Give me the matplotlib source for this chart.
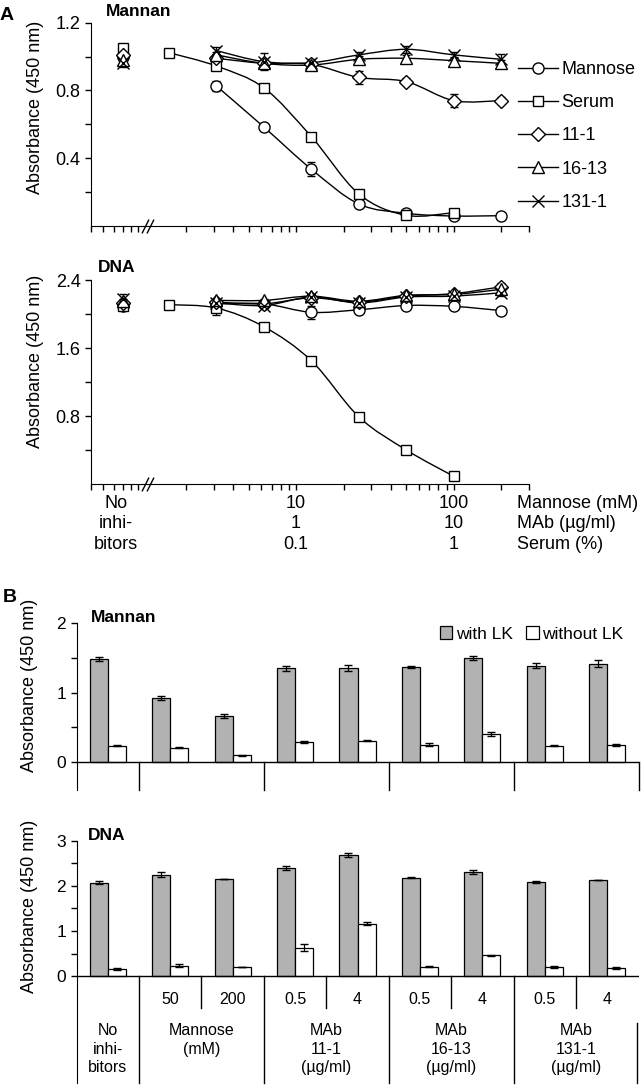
#%%
# Inhibition of binding to Mannan / DNA (panel A curves, panel B bars)
#
import numpy as np
import matplotlib as mpl
import matplotlib.pyplot as plt
from matplotlib.path import Path
from matplotlib.patches import PathPatch, Patch
from matplotlib.lines import Line2D
from matplotlib.ticker import NullFormatter, FixedLocator
mpl.rcParams['font.family'] = ['Liberation Sans', 'DejaVu Sans']

#
# Panel A data (x = mannose mM scale)
#
conc = [3.125, 6.25, 12.5, 25, 50, 100, 200]
serum_conc = [1.5625, 3.125, 6.25, 12.5, 25, 50, 100]
noinh_x = 0.8

mannan_mannose = [0.826, 0.584, 0.335, 0.130, 0.075, 0.059, 0.061]
mannan_serum = [1.023, 0.944, 0.815, 0.527, 0.189, 0.063, 0.079]
mannan_111 = [0.99, 0.96, 0.954, 0.877, 0.852, 0.74, 0.74]
mannan_1613 = [1.01, 0.96, 0.95, 0.984, 0.99, 0.976, 0.96]
mannan_1311 = [1.035, 0.97, 0.964, 1.01, 1.043, 1.01, 0.984]
mannan_noinh = [1.0, 1.049, 1.01, 0.98, 0.96]

mannan_mannose_err = [0.03, 0.01, 0.04, 0.01, 0.01, 0.005, 0.005]
mannan_serum_err = [0.01, 0.01, 0.01, 0.01, 0.01, 0.005, 0.005]
mannan_111_err = [0.02, 0.02, 0.02, 0.04, 0.02, 0.04, 0.02]
mannan_1613_err = [0.02, 0.02, 0.02, 0.02, 0.02, 0.02, 0.02]
mannan_1311_err = [0.02, 0.05, 0.02, 0.02, 0.02, 0.02, 0.03]
mannan_noinh_err = [0.02, 0.02, 0.02, 0.02, 0.02]

dna_mannose = [2.12, 2.12, 2.02, 2.05, 2.10, 2.09, 2.04]
dna_serum = [2.11, 2.07, 1.85, 1.45, 0.79, 0.40, 0.09]
dna_111 = [2.14, 2.12, 2.19, 2.14, 2.21, 2.24, 2.32]
dna_1613 = [2.16, 2.16, 2.21, 2.15, 2.22, 2.23, 2.29]
dna_1311 = [2.13, 2.10, 2.20, 2.13, 2.20, 2.21, 2.25]
dna_noinh = [2.10, 2.10, 2.13, 2.15, 2.18]

dna_mannose_err = [0.02, 0.02, 0.08, 0.02, 0.02, 0.02, 0.02]
dna_serum_err = [0.02, 0.08, 0.02, 0.02, 0.05, 0.02, 0.02]
dna_111_err = [0.02, 0.02, 0.03, 0.02, 0.03, 0.03, 0.04]
dna_1613_err = [0.02, 0.02, 0.03, 0.02, 0.02, 0.03, 0.04]
dna_1311_err = [0.02, 0.02, 0.03, 0.02, 0.02, 0.03, 0.04]
dna_noinh_err = [0.02, 0.02, 0.02, 0.03, 0.06]

series_names = ['Mannose', 'Serum', '11-1', '16-13', '131-1']
series_markers = ['o', 's', 'D', '^', 'x']
marker_sizes = [8, 7, 7, 8, 8]

#
# Panel B data
#
doses = ['', '50', '200', '0.5', '4', '0.5', '4', '0.5', '4']
group_labels = ['No\ninhi-\nbitors', 'Mannose\n(mM)', 'MAb\n11-1\n(µg/ml)',
                'MAb\n16-13\n(µg/ml)', 'MAb\n131-1\n(µg/ml)']
group_span = [(0, 1), (1, 3), (3, 5), (5, 7), (7, 9)]

with_mannan = [1.49, 0.93, 0.67, 1.35, 1.36, 1.37, 1.50, 1.39, 1.42]
with_mannan_err = [0.03, 0.03, 0.03, 0.03, 0.04, 0.01, 0.03, 0.04, 0.05]
without_mannan = [0.24, 0.21, 0.10, 0.29, 0.31, 0.25, 0.41, 0.24, 0.25]
without_mannan_err = [0.01, 0.005, 0.005, 0.01, 0.005, 0.02, 0.03, 0.005, 0.01]

with_dna = [2.07, 2.25, 2.15, 2.40, 2.68, 2.18, 2.31, 2.08, 2.14]
with_dna_err = [0.04, 0.05, 0, 0.04, 0.05, 0.01, 0.05, 0.02, 0]
without_dna = [0.16, 0.23, 0.21, 0.63, 1.16, 0.21, 0.46, 0.20, 0.18]
without_dna_err = [0.02, 0.04, 0, 0.08, 0.03, 0.01, 0.01, 0.02, 0.03]

W, H = 641, 1087
FS = 13


def fig_rect(left, top, right, bottom):
    ''' pixel box -> figure fraction rect '''
    return [left / W, 1 - bottom / H, (right - left) / W, (bottom - top) / H]


def smooth_path(x, y):
    ''' Catmull-Rom style smooth line through the points (log x space). '''
    lx = np.log10(x)
    y = np.asarray(y, float)
    n = len(lx)
    verts = [(x[0], y[0])]
    codes = [Path.MOVETO]
    for i in range(n - 1):
        a = max(i - 1, 0)
        b = min(i + 2, n - 1)
        c1 = (lx[i] + (lx[i + 1] - lx[a]) / 6, y[i] + (y[i + 1] - y[a]) / 6)
        c2 = (lx[i + 1] - (lx[b] - lx[i]) / 6, y[i + 1] - (y[b] - y[i]) / 6)
        verts += [(10 ** c1[0], c1[1]), (10 ** c2[0], c2[1]), (x[i + 1], y[i + 1])]
        codes += [Path.CURVE4] * 3
    return Path(verts, codes)


def curve_panel(ax, data, errs, noinh, noinh_err, ymax, major, minor):
    ax.set_xscale('log')
    ax.set_xlim(0.5, 300)
    ax.set_ylim(0, ymax)
    for k, (vals, err) in enumerate(zip(data, errs)):
        xs = serum_conc if k == 1 else conc
        ax.add_patch(PathPatch(smooth_path(xs, vals), fill=False, lw=1,
                               ec='black', zorder=2))
        ax.errorbar(xs, vals, yerr=err, fmt='none', ecolor='black',
                    elinewidth=0.9, capsize=3, zorder=3)
        ax.plot(xs, vals, ls='none', marker=series_markers[k], ms=marker_sizes[k],
                mfc='white', mec='black', mew=1, zorder=4)
        ax.errorbar([noinh_x], [noinh[k]], yerr=[noinh_err[k]], fmt='none',
                    ecolor='black', elinewidth=0.9, capsize=3, zorder=3)
        ax.plot([noinh_x], [noinh[k]], ls='none', marker=series_markers[k],
                ms=marker_sizes[k], mfc='white', mec='black', mew=1, zorder=4)
    ax.spines['top'].set_visible(False)
    ax.spines['right'].set_visible(False)
    ax.xaxis.set_major_formatter(NullFormatter())
    ax.xaxis.set_minor_formatter(NullFormatter())
    ax.tick_params(axis='x', which='both', direction='out', length=4, width=1)
    ax.yaxis.set_major_locator(FixedLocator(major))
    ax.yaxis.set_minor_locator(FixedLocator(minor))
    ax.tick_params(axis='y', which='both', direction='out', length=4, width=1,
                   labelsize=FS)
    ax.set_ylabel('Absorbance (450 nm)', fontsize=FS)
    # axis break
    brk = Path([(-0.5, -1), (0.5, 1)])
    ax.plot([1.10, 1.18], [0, 0], ls='none', marker=brk, ms=10, mec='black',
            mew=1, clip_on=False, zorder=5)


def bar_panel(ax, with_v, with_e, without_v, without_e, ymax, ybottom):
    idx = np.arange(len(with_v)) + 0.5
    w = 0.29
    ax.bar(idx - w / 2, with_v, w, color='#b2b2b2', edgecolor='black', lw=0.9,
           yerr=with_e, error_kw=dict(ecolor='black', elinewidth=0.9, capsize=3))
    ax.bar(idx + w / 2, without_v, w, color='white', edgecolor='black', lw=0.9,
           yerr=without_e, error_kw=dict(ecolor='black', elinewidth=0.9, capsize=3))
    ax.set_xlim(0, len(with_v))
    ax.set_ylim(ybottom, ymax)
    ax.axhline(0, color='black', lw=1)
    for s in ['top', 'right', 'bottom']:
        ax.spines[s].set_visible(False)
    ax.set_xticks([])
    ax.yaxis.set_major_locator(FixedLocator(np.arange(0, ymax + 0.01, 1)))
    ax.yaxis.set_minor_locator(FixedLocator(np.arange(0.5, ymax, 1)))
    ax.tick_params(axis='y', which='both', direction='out', length=4, width=1,
                   labelsize=12.5)
    ax.set_ylabel('Absorbance (450 nm)', fontsize=FS)


fig = plt.figure(figsize=(W / 100, H / 100), dpi=100)

#
# Panel A
#
axm = fig.add_axes(fig_rect(91, 22.7, 529, 226))
curve_panel(axm,
            [mannan_mannose, mannan_serum, mannan_111, mannan_1613, mannan_1311],
            [mannan_mannose_err, mannan_serum_err, mannan_111_err,
             mannan_1613_err, mannan_1311_err],
            mannan_noinh, mannan_noinh_err, 1.2, [0.4, 0.8, 1.2], [0.2, 0.6, 1.0])
axm.yaxis.set_label_coords(-0.107, 0.585)

axd = fig.add_axes(fig_rect(91, 280, 529, 484))
curve_panel(axd,
            [dna_mannose, dna_serum, dna_111, dna_1613, dna_1311],
            [dna_mannose_err, dna_serum_err, dna_111_err, dna_1613_err, dna_1311_err],
            dna_noinh, dna_noinh_err, 2.4, [0.8, 1.6, 2.4], [0.4, 1.2, 2.0])
axd.yaxis.set_label_coords(-0.107, 0.6)

handles = [Line2D([], [], color='black', lw=1, marker=m, ms=s,
                  mfc='white', mec='black') for m, s in zip(series_markers, marker_sizes)]
axm.legend(handles, series_names, loc='upper left', frameon=False, fontsize=FS,
           bbox_to_anchor=(518 / W, 1 - 61 / H), bbox_transform=fig.transFigure,
           borderpad=0, borderaxespad=0, handlelength=2.2, handletextpad=0.2,
           labelspacing=0.9)

# x-axis labels under the DNA panel
row_labels = [['No', '10', '100', 'Mannose (mM)'],
              ['inhi-', '1', '10', 'MAb (µg/ml)'],
              ['bitors', '0.1', '1', 'Serum (%)']]
row_x = [0.72, 10, 100]
for r, row in enumerate(row_labels):
    off = -14 - 14.7 * r
    for x, lab in zip(row_x, row[:3]):
        axd.annotate(lab, xy=(x, 0), xycoords=('data', 'axes fraction'),
                     xytext=(0, off), textcoords='offset points', ha='center',
                     va='center', fontsize=FS, annotation_clip=False)
    axd.annotate(row[3], xy=(1, 0), xycoords='axes fraction',
                 xytext=(-9, off), textcoords='offset points', ha='left',
                 va='center', fontsize=FS, annotation_clip=False)

fig.text(0 / W, 1 - 15 / H, 'A', fontsize=14, fontweight='bold', va='center')
fig.text(106 / W, 1 - 11 / H, 'Mannan', fontsize=12.5, fontweight='bold', va='center')
fig.text(98 / W, 1 - 268 / H, 'DNA', fontsize=12.5, fontweight='bold', va='center')

#
# Panel B
#
axbm = fig.add_axes(fig_rect(76.5, 623.3, 638.5, 790))
bar_panel(axbm, with_mannan, with_mannan_err, without_mannan, without_mannan_err,
          2, -0.4)
for x in [1, 3, 5, 7, 9]:
    axbm.plot([x, x], [-0.4, 0], color='black', lw=1, clip_on=False)
axbm.yaxis.set_label_coords(-0.0685, 0.63)
axbm.legend([Patch(fc='#b2b2b2', ec='black', lw=0.9), Patch(fc='white', ec='black', lw=0.9)],
            ['with LK', 'without LK'], loc='center left', ncol=2, frameon=False,
            fontsize=12.5, bbox_to_anchor=(440 / W, 1 - 634 / H),
            bbox_transform=fig.transFigure, borderpad=0, borderaxespad=0,
            handlelength=0.7, handleheight=0.7, handletextpad=0.2,
            columnspacing=0.8)

axbd = fig.add_axes(fig_rect(76.5, 840.7, 638.5, 1083))
bar_panel(axbd, with_dna, with_dna_err, without_dna, without_dna_err, 3, -2.37)
for x in [1, 3, 5, 7]:
    axbd.plot([x, x], [-2.37, 0], color='black', lw=1, clip_on=False)
for x in [2, 4, 6, 8]:
    axbd.plot([x, x], [-0.71, 0], color='black', lw=1, clip_on=False)
axbd.plot([8.97, 8.97], [-2.37, -1.05], color='black', lw=1, clip_on=False)
for i, d in enumerate(doses):
    axbd.text(i + 0.5, -0.51, d, ha='center', va='center', fontsize=11.5)
for (a, b), lab in zip(group_span, group_labels):
    axbd.text((a + b) / 2, -1.04, lab, ha='center', va='top', fontsize=11.5,
              linespacing=1.3)
axbd.yaxis.set_label_coords(-0.0685, 0.727)

fig.text(3 / W, 1 - 597 / H, 'B', fontsize=14, fontweight='bold', va='center')
fig.text(91 / W, 1 - 618 / H, 'Mannan', fontsize=12.5, fontweight='bold', va='center')
fig.text(88 / W, 1 - 835 / H, 'DNA', fontsize=12.5, fontweight='bold', va='center')

fig.savefig('out.png', dpi=100)

#%%
